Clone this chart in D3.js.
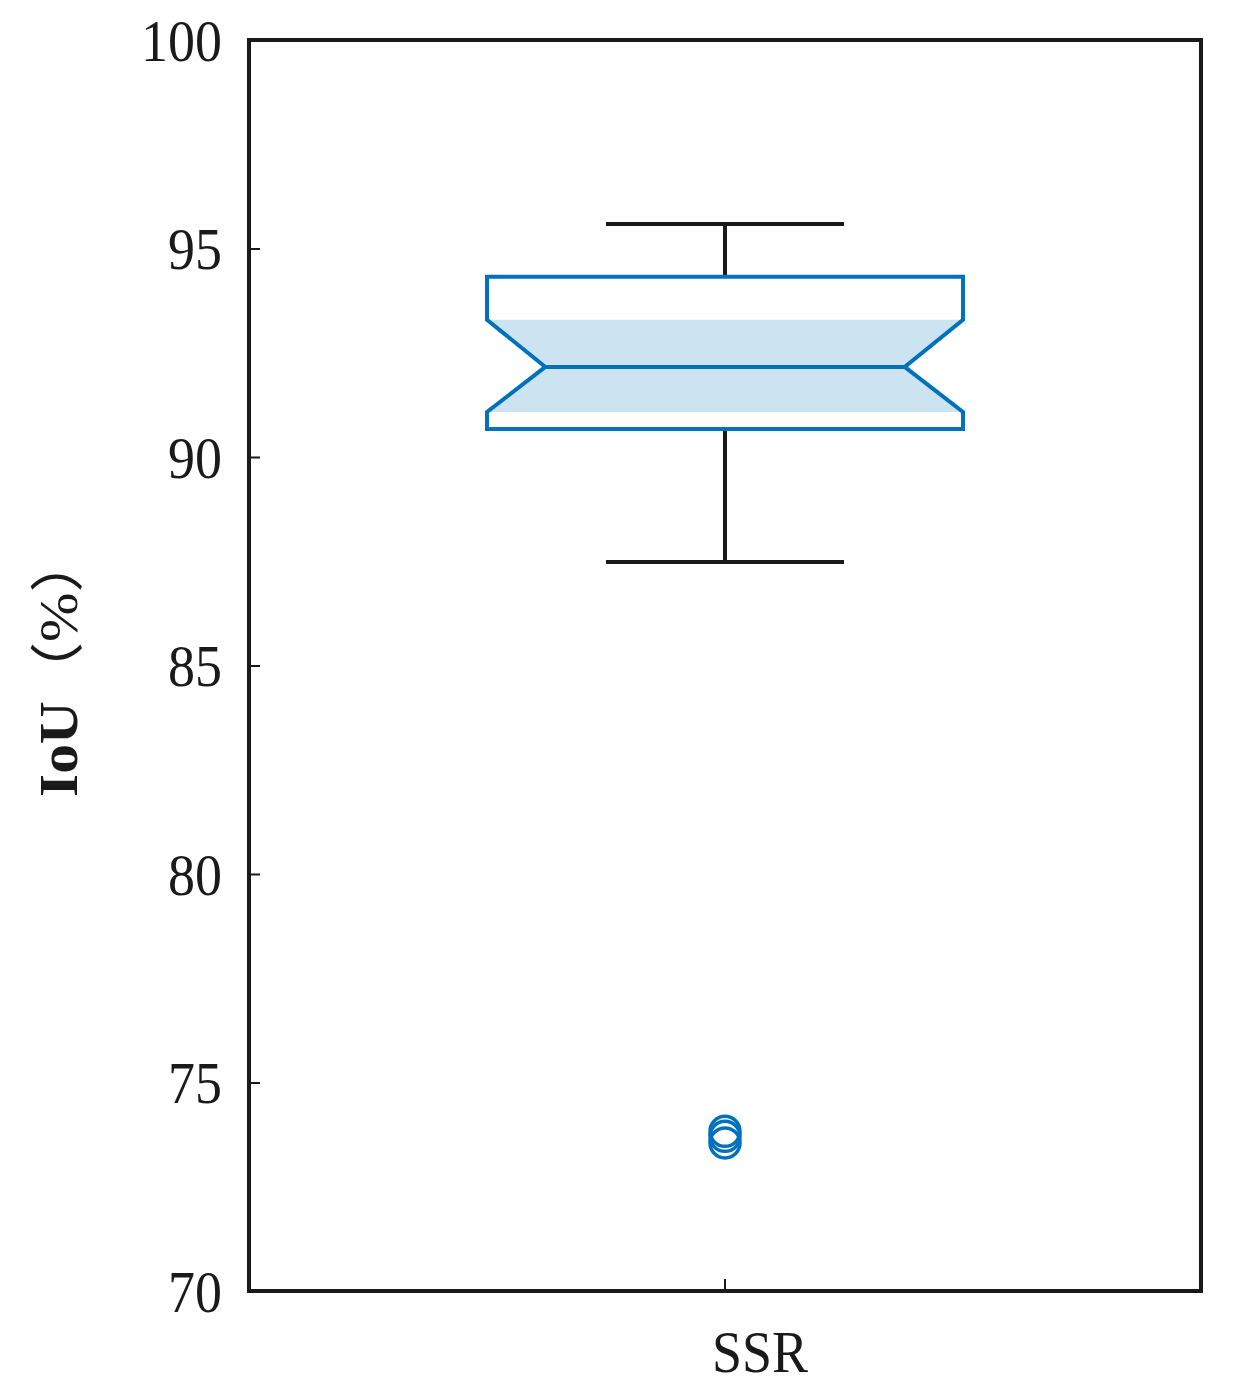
<!DOCTYPE html>
<html>
<head>
<meta charset="utf-8">
<script src="https://cdn.jsdelivr.net/npm/d3@7"></script>
<style>
  html, body { margin: 0; padding: 0; background: #fff; }
  text { font-family: "Times New Roman", "Liberation Serif", Tinos, Times, serif; fill: #1a1a1a; }
  tspan.cjk { font-family: "Noto Sans CJK SC", "Noto Sans CJK JP", sans-serif; font-weight: normal; }
</style>
</head>
<body>
<svg id="chart" width="1233" height="1397"></svg>
<script>
// ---- data ----
const categories = ["SSR"];
const whiskerLow = [87.48];
const q1 = [90.67];
const median = [92.16];
const q3 = [94.32];
const whiskerHigh = [95.59];
const notchLow = [91.08];
const notchHigh = [93.29];
const outliers = [[73.83, 73.71, 73.55]];
const yTicks = [70, 75, 80, 85, 90, 95, 100];
const yLabelMain = "IoU";
const yLabelUnit = ["（", "%", "）"];

// ---- layout ----
const svg = d3.select("#chart");
const L = 249, R = 1201, T = 40, B = 1291;
const blue = "#0072BD";
const fillBlue = "#cce3f2";
const SY = 1.1; // vertical stretch of glyphs
const serif = "'Times New Roman', 'Liberation Serif', Tinos, serif";

const y = d3.scaleLinear().domain([70, 100]).range([B, T]);
const x = d3.scaleBand().domain(categories).range([L, R]);

const g = svg.append("g");

categories.forEach((c, i) => {
  const cx = x(c) + x.bandwidth() / 2;
  const hw = x.bandwidth() * 0.25;      // box half width
  const nw = hw * 0.755;                // notch half width
  const cw = hw * 0.5;                  // cap half width

  const fillPts = [
    [cx - hw, y(notchHigh[i])], [cx - nw, y(median[i])], [cx - hw, y(notchLow[i])],
    [cx + hw, y(notchLow[i])], [cx + nw, y(median[i])], [cx + hw, y(notchHigh[i])]
  ];
  g.append("path").attr("d", d3.line()(fillPts) + "Z")
    .attr("fill", fillBlue).attr("stroke", "none");

  const wg = g.append("g").attr("stroke", "#1a1a1a").attr("stroke-width", 4).attr("fill", "none");
  wg.append("line").attr("x1", cx).attr("x2", cx).attr("y1", y(whiskerHigh[i])).attr("y2", y(q3[i]));
  wg.append("line").attr("x1", cx).attr("x2", cx).attr("y1", y(q1[i])).attr("y2", y(whiskerLow[i]));
  wg.append("line").attr("x1", cx - cw).attr("x2", cx + cw).attr("y1", y(whiskerHigh[i])).attr("y2", y(whiskerHigh[i]));
  wg.append("line").attr("x1", cx - cw).attr("x2", cx + cw).attr("y1", y(whiskerLow[i])).attr("y2", y(whiskerLow[i]));

  const boxPts = [
    [cx - hw, y(q3[i])], [cx - hw, y(notchHigh[i])], [cx - nw, y(median[i])],
    [cx - hw, y(notchLow[i])], [cx - hw, y(q1[i])], [cx + hw, y(q1[i])],
    [cx + hw, y(notchLow[i])], [cx + nw, y(median[i])], [cx + hw, y(notchHigh[i])],
    [cx + hw, y(q3[i])]
  ];
  g.append("path").attr("d", d3.line()(boxPts) + "Z")
    .attr("fill", "none").attr("stroke", blue).attr("stroke-width", 4)
    .attr("stroke-linejoin", "miter");
  g.append("line").attr("x1", cx - nw).attr("x2", cx + nw)
    .attr("y1", y(median[i])).attr("y2", y(median[i]))
    .attr("stroke", blue).attr("stroke-width", 4);

  g.selectAll(null).data(outliers[i]).enter().append("circle")
    .attr("cx", cx).attr("cy", d => y(d)).attr("r", 15)
    .attr("fill", "none").attr("stroke", blue).attr("stroke-width", 3.5);
});

// ---- axes ----
const yAxis = d3.axisLeft(y).tickValues(yTicks).tickSizeInner(-11).tickSizeOuter(0).tickPadding(26);
const ya = svg.append("g").attr("transform", `translate(${L},0)`).call(yAxis);
ya.attr("font-family", null).attr("font-size", null);
ya.select(".domain").remove();
ya.selectAll(".tick line").attr("stroke", "#1a1a1a").attr("stroke-width", 2);
ya.selectAll(".tick text")
  .attr("x", null)
  .attr("transform", `translate(-27,0) scale(1,${SY})`)
  .attr("dy", "0.34em")
  .attr("font-size", 54)
  .attr("fill", "#1a1a1a")
  .attr("text-anchor", "end")
  .style("font-family", serif);

const xAxis = d3.axisBottom(x).tickSizeInner(-12).tickSizeOuter(0).tickFormat("");
const xa = svg.append("g").attr("transform", `translate(0,${B})`).call(xAxis);
xa.attr("font-family", null).attr("font-size", null);
xa.select(".domain").remove();
xa.selectAll(".tick line").attr("stroke", "#1a1a1a").attr("stroke-width", 2);
xa.selectAll(".tick").append("text")
  .attr("transform", `translate(35,81) scale(1,${SY})`)
  .attr("text-anchor", "middle")
  .attr("font-size", 54)
  .attr("fill", "#1a1a1a")
  .style("font-family", serif)
  .text(d => d);

// frame
svg.append("rect").attr("x", L).attr("y", T).attr("width", R - L).attr("height", B - T)
  .attr("fill", "none").attr("stroke", "#1a1a1a").attr("stroke-width", 4);

// y label
const yl = svg.append("text")
  .attr("transform", `translate(77,665) scale(1,${SY}) rotate(-90)`)
  .attr("text-anchor", "middle")
  .attr("font-size", 54)
  .style("font-family", serif);
yl.append("tspan").attr("font-weight", "bold").text(yLabelMain);
yl.append("tspan").attr("class", "cjk").text(yLabelUnit[0]);
yl.append("tspan").style("font-family", serif).text(yLabelUnit[1]);
yl.append("tspan").attr("class", "cjk").text(yLabelUnit[2]);
</script>
</body>
</html>
